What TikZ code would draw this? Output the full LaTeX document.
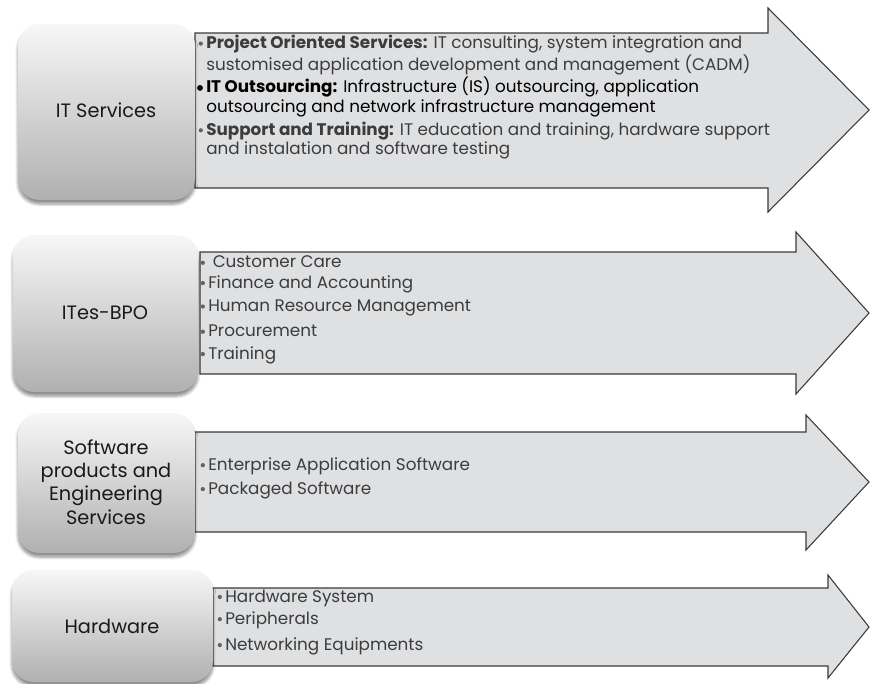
\documentclass[tikz,border=0pt]{standalone}
\usepackage{fontspec}
\setmainfont{Poppins}
\usetikzlibrary{shadows.blur}
\definecolor{arrowfill}{HTML}{DFE0E2}
\definecolor{arrowline}{HTML}{3A3A3A}
\definecolor{itemtext}{HTML}{3C3C3C}
\definecolor{boxtop}{HTML}{F7F7F7}
\definecolor{boxbottom}{HTML}{B0B0B0}
\tikzset{
  catbox/.style={rounded corners=16pt, top color=boxtop, bottom color=boxbottom,
    draw=none, blur shadow={shadow xshift=0pt, shadow yshift=-3pt, shadow blur steps=6, shadow opacity=45}},
  catlabel/.style={align=center, font=\fontsize{14.5}{17.5}\selectfont, text=black!90},
  bigarrow/.style={fill=arrowfill, draw=arrowline, line width=0.8pt, line join=miter},
  itemlist/.style={anchor=west, align=left, inner sep=0pt, text=itemtext,
    font=\fontsize{12.6}{14.4}\selectfont},
}
% list bullets, hung to the left of the item text
\newcommand{\itm}{\llap{\tikz[baseline=0pt]\fill[itemtext!80] (0pt,0.55ex) circle (1.6pt);\hspace{2.5pt}}}
\newcommand{\itmbig}{\llap{\tikz[baseline=0pt]\fill[black] (0pt,0.55ex) circle (2.2pt);\hspace{2.5pt}}}
\begin{document}
\begin{tikzpicture}[x=0.75pt,y=-0.75pt]
\useasboundingbox (0,0) rectangle (870,683);

% arrows
\draw[bigarrow] (195,33) -- (768,33) -- (768,8) -- (869,110) -- (768,212) -- (768,188) -- (195,188) -- cycle;
\draw[bigarrow] (200,252) -- (796,252) -- (796,232) -- (869,313) -- (796,394) -- (796,374) -- (200,374) -- cycle;
\draw[bigarrow] (195,432) -- (806,432) -- (806,415) -- (869,482) -- (806,550) -- (806,532) -- (195,532) -- cycle;
\draw[bigarrow] (213,588) -- (828,588) -- (828,575) -- (869,627) -- (828,678) -- (828,666) -- (213,666) -- cycle;

% category boxes
\path[catbox] (18,24) rectangle (195,200);
\path[catbox] (13,235) rectangle (198,392);
\path[catbox] (18,413) rectangle (195,553);
\path[catbox] (12,570) rectangle (213,682);

\node[catlabel] (itserv) at (106,110) {IT Services};
\node[catlabel] (bpo) at (105,313) {ITes-BPO};
\node[catlabel] (soft) at (106,482) {Software\\products and\\Engineering\\Services};
\node[catlabel] (hard) at (112,626) {Hardware};

% IT services items
\node[itemlist] (it1) at (206,55) {\itm\textbf{Project Oriented Services:} IT consulting, system integration and\\
  sustomised application development and management (CADM)};
\node[itemlist, text=black] (it2) at (206,97) {\itmbig\textbf{IT Outsourcing:} Infrastructure (IS) outsourcing, application\\
  outsourcing and network infrastructure management};
\node[itemlist] (it3) at (206,140.5) {\itm\textbf{Support and Training:} IT education and training, hardware support\\
  and instalation and software testing};

% ITes-BPO items
\node[itemlist] (b1) at (208,262) {\itm\ Customer Care};
\node[itemlist] (b2) at (208,284) {\itm Finance and Accounting};
\node[itemlist] (b3) at (208,308) {\itm Human Resource Management};
\node[itemlist] (b4) at (208,331) {\itm Procurement};
\node[itemlist] (b5) at (208,355) {\itm Training};

% software items
\node[itemlist] (s1) at (208,466) {\itm Enterprise Application Software};
\node[itemlist] (s2) at (208,490) {\itm Packaged Software};

% hardware items
\node[itemlist] (h1) at (225,598) {\itm Hardware System};
\node[itemlist] (h2) at (225,620) {\itm Peripherals};
\node[itemlist] (h3) at (225,646) {\itm Networking Equipments};
\end{tikzpicture}
\end{document}
